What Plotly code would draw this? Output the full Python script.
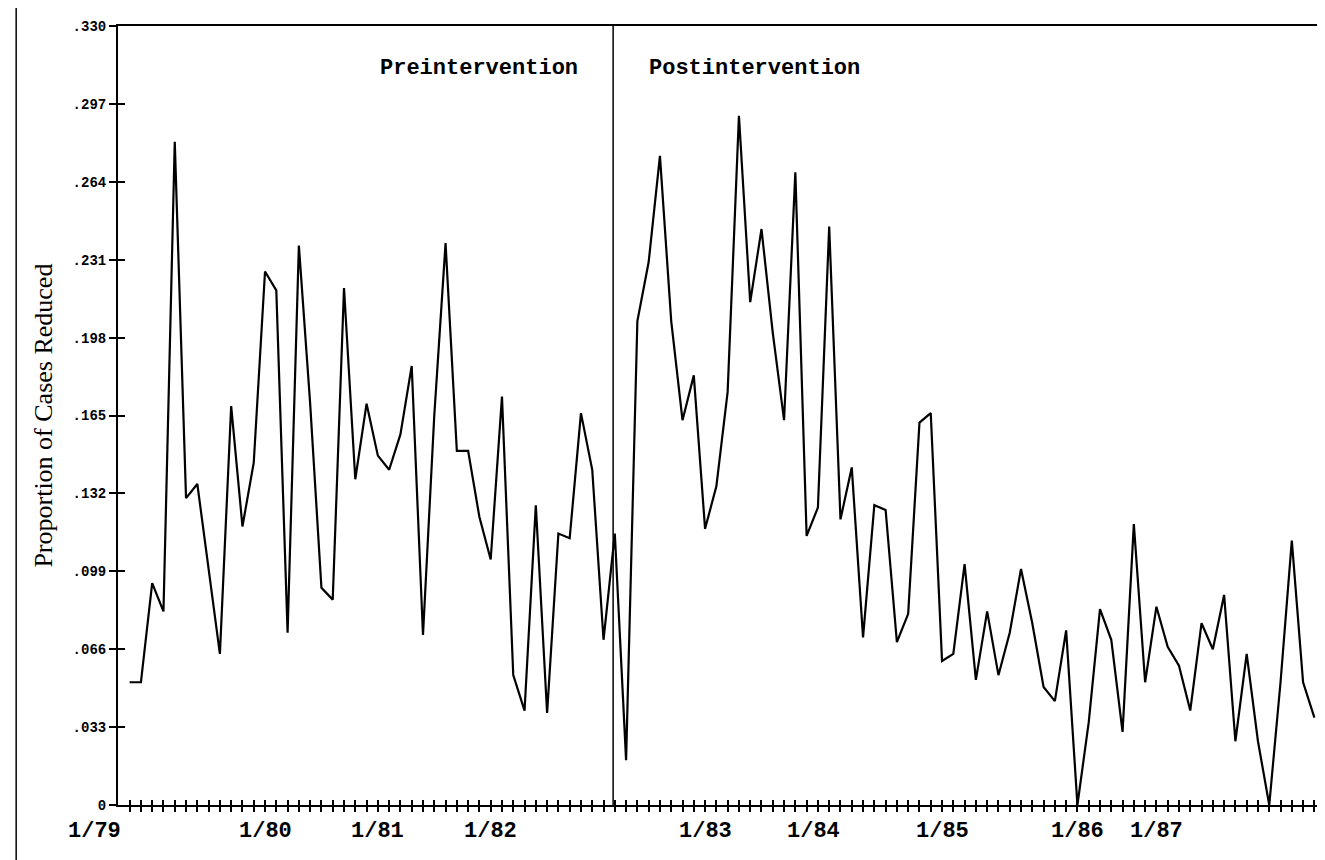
import plotly.graph_objects as go

# ---- data (monthly observations starting 1/79) ----
pre_values = [0.052, 0.052, 0.094, 0.082, 0.281, 0.130, 0.136, 0.100, 0.064, 0.169,
              0.118, 0.145, 0.226, 0.218, 0.073, 0.237, 0.170, 0.092, 0.087, 0.219,
              0.138, 0.170, 0.148, 0.142, 0.157, 0.186, 0.072, 0.165, 0.238, 0.150,
              0.150, 0.122, 0.104, 0.173, 0.055, 0.040, 0.127, 0.039, 0.115, 0.113,
              0.166, 0.142, 0.070, 0.115]
post_values = [0.019, 0.205, 0.230, 0.275, 0.205, 0.163, 0.182, 0.117, 0.135, 0.175,
               0.292, 0.213, 0.244, 0.200, 0.163, 0.268, 0.114, 0.126, 0.245, 0.121,
               0.143, 0.071, 0.127, 0.125, 0.069, 0.081, 0.162, 0.166,
               0.061, 0.064, 0.102, 0.053, 0.082, 0.055, 0.073, 0.100, 0.077, 0.050,
               0.044, 0.074, 0.000, 0.035, 0.083, 0.070, 0.031, 0.119, 0.052, 0.084,
               0.067, 0.059, 0.040, 0.077, 0.066, 0.089, 0.027, 0.064, 0.027, 0.000,
               0.052, 0.112, 0.052, 0.037]
values = pre_values + post_values
months = list(range(len(values)))
intervention_month = 42.85

x_label_text = ["1/79", "1/80", "1/81", "1/82", "1/83", "1/84", "1/85", "1/86", "1/87"]
x_label_pos = [-3.1, 12, 22, 32, 51, 60.6, 72, 84, 91]

y_tick_vals = [0, 0.033, 0.066, 0.099, 0.132, 0.165, 0.198, 0.231, 0.264, 0.297, 0.330]
y_tick_text = ["0", ".033", ".066", ".099", ".132", ".165", ".198", ".231", ".264", ".297", ".330"]

x_range = [-1.03, 106.03]
y_range = [0, 0.330]

W, H = 1325, 860
L, R, T, B = 110, 5, 18, 63
pw, ph = W - L - R, H - T - B

def px_x(px):
    return (px - L) / pw

def px_y(py):
    return (H - B - py) / ph

def month_to_paper(m):
    return (m - x_range[0]) / (x_range[1] - x_range[0])

mono = "Liberation Mono"

fig = go.Figure()
fig.add_trace(go.Scatter(x=months, y=values, mode="lines",
                         line=dict(color="black", width=2.2), showlegend=False,
                         hoverinfo="skip"))
# invisible trace for the overlay axes (inner half of the crossing ticks)
fig.add_trace(go.Scatter(x=[months[0]], y=[values[0]], xaxis="x2", yaxis="y2",
                         mode="markers", marker=dict(opacity=0), showlegend=False,
                         hoverinfo="skip"))

fig.update_layout(
    width=W, height=H,
    margin=dict(l=L, r=R, t=T, b=B),
    paper_bgcolor="white", plot_bgcolor="white",
    xaxis=dict(range=x_range, showline=True, linecolor="black", linewidth=2,
               mirror=True, tickvals=months, ticks="outside", ticklen=5,
               tickwidth=1.5, tickcolor="black", showticklabels=False,
               showgrid=False, zeroline=False),
    xaxis2=dict(range=x_range, overlaying="x", anchor="y", side="bottom",
                tickvals=months, ticks="inside", ticklen=5, tickwidth=1.5,
                tickcolor="black", showticklabels=False, showline=False,
                showgrid=False, zeroline=False),
    yaxis=dict(range=y_range, showline=True, linecolor="black", linewidth=2,
               mirror=True, tickvals=y_tick_vals, ticktext=y_tick_text,
               ticks="outside", ticklen=7, tickwidth=1.5, tickcolor="black",
               tickfont=dict(family=mono, size=14, color="black", weight="bold"),
               showgrid=False, zeroline=False),
    yaxis2=dict(range=y_range, overlaying="y", anchor="x", side="left",
                tickvals=y_tick_vals, ticks="inside", ticklen=7, tickwidth=1.5,
                tickcolor="black", showticklabels=False, showline=False,
                showgrid=False, zeroline=False),
)

# intervention line
fig.add_shape(type="line", xref="x", yref="paper", x0=intervention_month,
              x1=intervention_month, y0=0, y1=1,
              line=dict(color="black", width=1.5))
# page frame line at left
fig.add_shape(type="line", xref="paper", yref="paper", x0=px_x(8), x1=px_x(8),
              y0=px_y(H), y1=px_y(0), line=dict(color="black", width=1.5))

annotations = []
for txt, pos in zip(x_label_text, x_label_pos):
    annotations.append(dict(x=month_to_paper(pos), xref="paper", y=px_y(823),
                            yref="paper", text=txt, showarrow=False,
                            xanchor="center", yanchor="middle",
                            font=dict(family=mono, size=22, color="black",
                                      weight="bold")))
annotations.append(dict(x=px_x(573), xref="paper", y=px_y(60), yref="paper",
                        text="Preintervention", showarrow=False, xanchor="right",
                        yanchor="middle",
                        font=dict(family=mono, size=22, color="black", weight="bold")))
annotations.append(dict(x=px_x(640), xref="paper", y=px_y(60), yref="paper",
                        text="Postintervention", showarrow=False, xanchor="left",
                        yanchor="middle",
                        font=dict(family=mono, size=22, color="black", weight="bold")))
annotations.append(dict(x=px_x(35), xref="paper", y=0.5, yref="paper",
                        text="Proportion of Cases Reduced", showarrow=False,
                        textangle=-90, xanchor="center", yanchor="middle",
                        font=dict(family="Liberation Serif", size=26, color="black")))
fig.update_layout(annotations=annotations)

fig.write_html("out.html")
